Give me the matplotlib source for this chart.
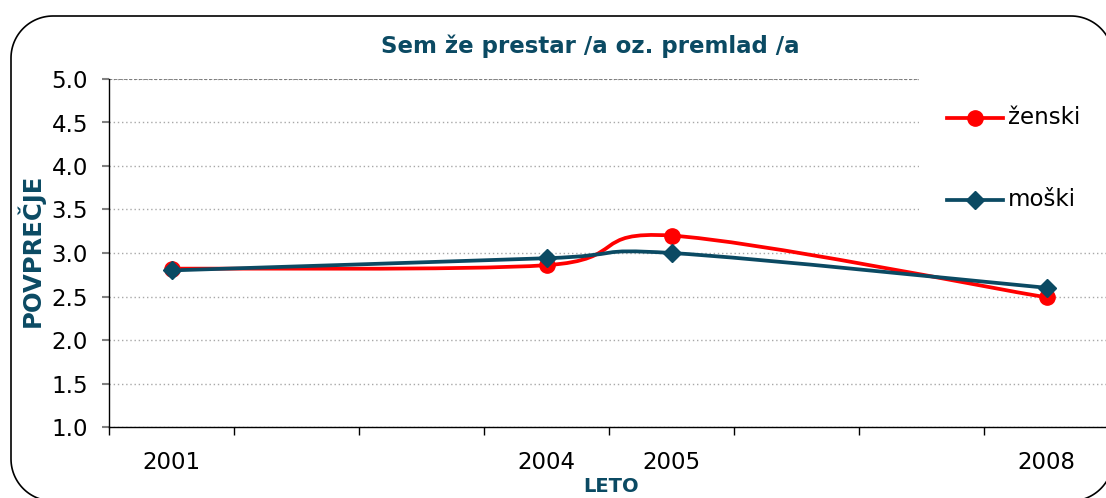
import matplotlib
matplotlib.use("Agg")
import matplotlib.pyplot as plt
import numpy as np
from matplotlib.lines import Line2D
from matplotlib.path import Path
from matplotlib.patches import PathPatch
from matplotlib.transforms import IdentityTransform
from matplotlib.legend_handler import HandlerLine2D

# data
years = [2001, 2004, 2005, 2008]
zenski = [2.82, 2.86, 3.20, 2.49]
moski = [2.80, 2.94, 3.00, 2.60]
series_names = ["ženski", "moški"]

title = "Sem že prestar /a oz. premlad /a"
x_title = "LETO"
y_title = "POVPREČJE"

RED = "#FF0000"
TEAL = "#0B4A63"
W, H = 1106, 498


def smooth_path(xs, ys):
    # bezier path through the points, like excel "smoothed line"
    pts = np.column_stack([xs, ys]).astype(float)
    padded = np.vstack([pts[0], pts, pts[-1]])
    verts = [pts[0]]
    codes = [Path.MOVETO]
    for i in range(len(pts) - 1):
        p0, p1, p2, p3 = padded[i:i + 4]
        verts += [p1 + (p2 - p0) / 6, p2 - (p3 - p1) / 6, p2]
        codes += [Path.CURVE4] * 3
    return Path(verts, codes)


def rounded_frame(x0, y0, x1, y1, r):
    # rounded rectangle in pixel coords (y measured from top)
    pts = []
    corners = [(x1 - r, y0 + r, -90, 0), (x1 - r, y1 - r, 0, 90),
               (x0 + r, y1 - r, 90, 180), (x0 + r, y0 + r, 180, 270)]
    for cx, cy, a0, a1 in corners:
        a = np.radians(np.linspace(a0, a1, 30))
        for t in a:
            pts.append((cx + r * np.cos(t), H - (cy + r * np.sin(t))))
    pts.append(pts[0])
    return Path(pts)


class CenteredHandler(HandlerLine2D):
    # put the legend line through the middle of the text, as excel does
    def create_artists(self, legend, orig_handle, xdescent, ydescent,
                       width, height, fontsize, trans):
        arts = super().create_artists(legend, orig_handle, xdescent, ydescent,
                                      width, height, fontsize, trans)
        for a in arts:
            a.set_ydata(np.asarray(a.get_ydata()) - 0.35 * fontsize)
        return arts


fig = plt.figure(figsize=(W / 100, H / 100), dpi=100)
ax = fig.add_axes([109 / W, 71 / H, 1000 / W, 348 / H])

for vals, col, mk, ms in [(zenski, RED, "o", 11), (moski, TEAL, "D", 9)]:
    ax.add_patch(PathPatch(smooth_path(years, vals), fill=False, edgecolor=col,
                           lw=2.7, capstyle="round", joinstyle="round", zorder=3))
    ax.plot(years, vals, ls="none", marker=mk, ms=ms, color=col, zorder=4)

ax.set_xlim(2000.5, 2008.5)
ax.set_ylim(1.0, 5.0)
ax.set_yticks(np.arange(1.0, 5.01, 0.5))
ax.set_yticklabels([f"{v:.1f}" for v in np.arange(1.0, 5.01, 0.5)])
ax.set_xticks(np.arange(2000.5, 2008.6, 1.0))
ax.set_xticklabels([])
ax.set_xticks(years, minor=True)
ax.set_xticklabels([str(y) for y in years], minor=True)
ax.tick_params(axis="x", which="major", length=6, width=1, direction="out", color="black")
ax.tick_params(axis="x", which="minor", length=0, pad=17, labelsize=16.5)
ax.tick_params(axis="y", length=5, width=1.5, color="#808080", pad=10, labelsize=16.5)
ax.grid(axis="y", ls=(0, (1, 2)), color="#a8a8a8", lw=1)
ax.set_axisbelow(True)
for s in ["top", "right"]:
    ax.spines[s].set_visible(False)
for s in ["left", "bottom"]:
    ax.spines[s].set_linewidth(1)
# top gridline is drawn darker in the original
ax.axhline(5.0, color="#707070", lw=1.2, ls=(0, (2, 1)), zorder=1)

handles = [Line2D([], [], color=RED, lw=2.7, marker="o", ms=11),
           Line2D([], [], color=TEAL, lw=2.7, marker="D", ms=9)]
leg = ax.legend(handles, series_names, loc="upper left",
                bbox_to_anchor=(919 / W, 1 - 68 / H), bbox_transform=fig.transFigure,
                fontsize=16.5, frameon=True, facecolor="white", edgecolor="none",
                framealpha=1, fancybox=False, borderpad=1.2, borderaxespad=0,
                handlelength=2.45, handletextpad=0.25, handleheight=2.5,
                labelspacing=1.7, numpoints=1,
                handler_map={Line2D: CenteredHandler()})
leg.set_zorder(5)

fig.text(590 / W, 1 - 46 / H, title, ha="center", va="center",
         fontsize=16.5, fontweight="bold", color=TEAL)
fig.text(31 / W, 1 - 250 / H, y_title, ha="center", va="center", rotation=90,
         fontsize=17.5, fontweight="bold", color=TEAL)
fig.text(611 / W, 1 - 486 / H, x_title, ha="center", va="center",
         fontsize=14, fontweight="bold", color=TEAL)

# rounded chart border
fig.add_artist(PathPatch(rounded_frame(11, 16, 1113, 501, 42), fill=False,
                         edgecolor="black", lw=1.2, transform=IdentityTransform()))

fig.savefig("out.png", dpi=100)
